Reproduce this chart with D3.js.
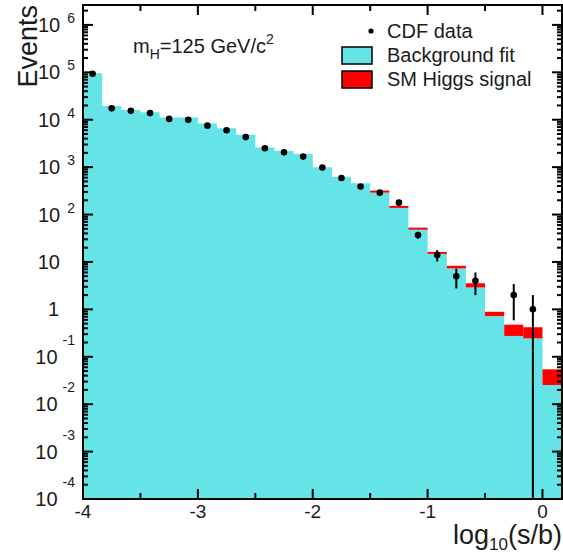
<!DOCTYPE html>
<html>
<head>
<meta charset="utf-8">
<script src="https://cdn.jsdelivr.net/npm/d3@7/dist/d3.min.js"></script>
<style>
  html, body { margin: 0; padding: 0; background: #fff; }
  svg { display: block; }
  text { font-family: "Liberation Sans", Arial, sans-serif; fill: #1b1b1b; }
</style>
</head>
<body>
<svg id="chart" width="563" height="554"></svg>
<script>
// Bin edges in log10(s/b)
const binEdges = [-4.000, -3.833, -3.667, -3.500, -3.333, -3.167, -3.000, -2.833, -2.667,
  -2.500, -2.333, -2.167, -2.000, -1.833, -1.667, -1.500, -1.333, -1.167, -1.000,
  -0.833, -0.667, -0.500, -0.333, -0.167, 0.000, 0.167];

// Fitted background per bin
const background = [96000, 19500, 16000, 14400, 11200, 11200, 8300, 6600, 4800,
  2600, 2200, 1900, 1000, 620, 460, 290, 138, 51, 14.8, 7.3, 2.9, 0.72, 0.275, 0.245, 0.0254];

// SM Higgs signal expectation stacked on the background
const signal = [0, 0, 0, 0, 0, 0, 0, 0, 0,
  0, 0, 0, 0, 0, 0, 30, 14, 2, 1.5, 1.0, 0.65, 0.17, 0.2, 0.175, 0.029];

// Observed CDF events per bin
const observed = [93000, 17400, 15500, 13800, 10400, 10000, 7500, 6000, 4300,
  2500, 2050, 1670, 980, 590, 390, 290, 178, 37, 14, 5, 4, 0, 2, 1, 0];

// Axis tick values
const xMajorTicks = [-4, -3, -2, -1, 0];
const xMinorTicks = [-3.5, -2.5, -1.5, -0.5];
const yExponents = [-4, -3, -2, -1, 0, 1, 2, 3, 4, 5, 6];

const svg = d3.select("#chart");
const L = 83, R = 562, T = 5, B = 499;

const x = d3.scaleLinear().domain([-4, 0.17]).range([L, R]);
const y = d3.scaleLog().domain([1e-4, Math.pow(10, 6.42)]).range([B, T]);

const bins = binEdges.slice(0, -1).map((lo, i) => ({
  lo, hi: binEdges[i + 1], bg: background[i], sig: signal[i], n: observed[i]
}));

svg.append("clipPath").attr("id", "plotclip")
  .append("rect").attr("x", L).attr("y", T).attr("width", R - L).attr("height", B - T);

const plot = svg.append("g").attr("clip-path", "url(#plotclip)");

// Background histogram as one stepped outline
const stepPts = [];
bins.forEach(d => { stepPts.push([d.lo, d.bg]); stepPts.push([d.hi, d.bg]); });
const bgArea = d3.area()
  .x(p => x(p[0]))
  .y0(B)
  .y1(p => y(p[1]));
plot.append("path").attr("d", bgArea(stepPts)).attr("fill", "#64e4e6");

// Signal stacked on top
plot.append("g").selectAll("rect").data(bins.filter(d => d.sig > 0)).join("rect")
  .attr("x", d => x(d.lo))
  .attr("width", d => x(d.hi) - x(d.lo))
  .attr("y", d => y(d.bg + d.sig))
  .attr("height", d => Math.max(2, y(d.bg) - y(d.bg + d.sig)))
  .attr("fill", "#ff0000");

// Data with Poisson error bars
const pts = bins.filter(d => d.n > 0);
plot.append("g").selectAll("line").data(pts).join("line")
  .attr("x1", d => x((d.lo + d.hi) / 2))
  .attr("x2", d => x((d.lo + d.hi) / 2))
  .attr("y1", d => y(d.n + Math.sqrt(d.n)))
  .attr("y2", d => { const lo = d.n - Math.sqrt(d.n); return lo > 1e-4 ? y(lo) : B + 2; })
  .attr("stroke", "#000").attr("stroke-width", 2);
plot.append("g").selectAll("circle").data(pts).join("circle")
  .attr("cx", d => x((d.lo + d.hi) / 2))
  .attr("cy", d => y(d.n))
  .attr("r", 3.3)
  .attr("fill", "#000");

// Frame and ticks
const axes = svg.append("g").attr("stroke", "#000");
axes.append("rect").attr("x", L).attr("y", T).attr("width", R - L).attr("height", B - T)
  .attr("fill", "none").attr("stroke-width", 2);

function xTicks(vals, len) {
  vals.forEach(v => {
    axes.append("line").attr("x1", x(v)).attr("x2", x(v)).attr("y1", B).attr("y2", B - len).attr("stroke-width", 2);
    axes.append("line").attr("x1", x(v)).attr("x2", x(v)).attr("y1", T).attr("y2", T + len).attr("stroke-width", 2);
  });
}
xTicks(xMajorTicks, 10);
xTicks(xMinorTicks, 6);

const yMinor = [];
yExponents.forEach(e => {
  for (let k = 2; k <= 9; k++) {
    const v = k * Math.pow(10, e);
    if (v < y.domain()[1]) yMinor.push(v);
  }
});
function yTicks(vals, len) {
  vals.forEach(v => {
    axes.append("line").attr("x1", L).attr("x2", L + len).attr("y1", y(v)).attr("y2", y(v)).attr("stroke-width", 2);
    axes.append("line").attr("x1", R).attr("x2", R - len).attr("y1", y(v)).attr("y2", y(v)).attr("stroke-width", 2);
  });
}
yTicks(yExponents.map(e => Math.pow(10, e)), 10);
yTicks(yMinor, 5);

// X tick labels
svg.append("g").selectAll("text").data(xMajorTicks).join("text")
  .attr("x", d => x(d)).attr("y", 518)
  .attr("text-anchor", "middle").attr("font-size", 19)
  .text(d => d === 0 ? "0" : "-" + Math.abs(d));

// Y tick labels
const yl = svg.append("g");
yExponents.forEach(e => {
  const ty = y(Math.pow(10, e));
  const t = yl.append("text").attr("text-anchor", "end").attr("font-size", 20);
  if (e === 0) {
    t.attr("x", 59).attr("y", ty + 7).text("1");
  } else if (e === 1) {
    t.attr("x", 60).attr("y", ty + 7).text("10");
  } else {
    t.attr("x", 75).attr("y", ty + 7);
    t.append("tspan").text("10");
    t.append("tspan").attr("dx", e < 0 ? 5 : 7).attr("dy", e < 0 ? -19 : -9)
      .attr("font-size", 14).text(e < 0 ? "-" + Math.abs(e) : String(e));
  }
});

// Axis titles
svg.append("text")
  .attr("transform", "translate(37,5) rotate(-90)")
  .attr("text-anchor", "end").attr("font-size", 27)
  .text("Events");

const xt = svg.append("text").attr("x", 562).attr("y", 544)
  .attr("text-anchor", "end").attr("font-size", 27);
xt.append("tspan").text("log");
xt.append("tspan").attr("font-size", 17).attr("dy", 6).text("10");
xt.append("tspan").attr("dy", -6).text("(s/b)");

// Mass annotation
const mh = svg.append("text").attr("x", 133).attr("y", 53).attr("font-size", 20);
mh.append("tspan").text("m");
mh.append("tspan").attr("font-size", 14).attr("dy", 6).text("H");
mh.append("tspan").attr("dy", -6).text("=125 GeV/c");
mh.append("tspan").attr("font-size", 14).attr("dy", -9).text("2");

// Legend
const lg = svg.append("g");
lg.append("circle").attr("cx", 371).attr("cy", 31).attr("r", 2.6).attr("fill", "#000");
lg.append("text").attr("x", 387).attr("y", 38).attr("font-size", 20).text("CDF data");
lg.append("rect").attr("x", 342).attr("y", 47).attr("width", 30).attr("height", 17)
  .attr("fill", "#64e4e6").attr("stroke", "#000").attr("stroke-width", 1.5);
lg.append("text").attr("x", 387).attr("y", 62).attr("font-size", 20).text("Background fit");
lg.append("rect").attr("x", 342).attr("y", 71).attr("width", 30).attr("height", 17)
  .attr("fill", "#ff0000").attr("stroke", "#000").attr("stroke-width", 1.5);
lg.append("text").attr("x", 387).attr("y", 86).attr("font-size", 20).text("SM Higgs signal");
</script>
</body>
</html>
